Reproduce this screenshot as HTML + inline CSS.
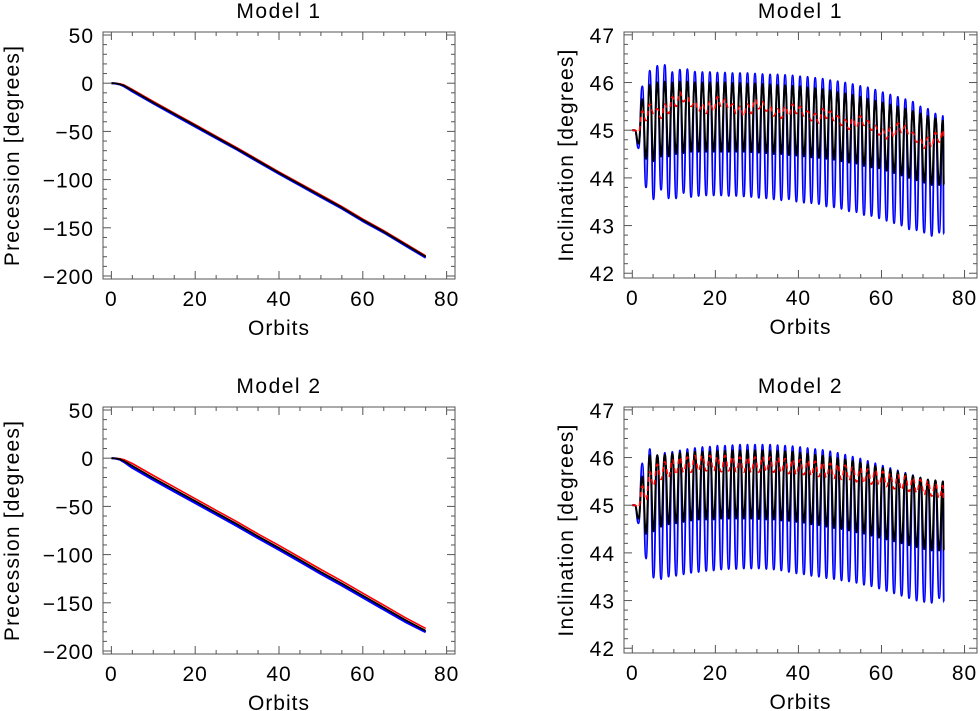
<!DOCTYPE html>
<html><head><meta charset="utf-8">
<style>
html,body{margin:0;padding:0;background:#fff;}
svg{display:block;font-family:"Liberation Sans",sans-serif;}
</style></head>
<body>
<svg id="chart" width="980" height="711" viewBox="0 0 980 711" xmlns="http://www.w3.org/2000/svg"></svg>
<script>
// ---------- Precession data (orbits vs degrees) ----------
const precX = [0,1,2,3,5,10,15,20,25,30,35,40,45,50,55,60,65,70,75];
const prec1Black = [0,-0.2,-1,-2.5,-7.5,-20,-32,-44,-56,-68,-80.5,-93,-105,-117,-129,-142,-154,-167,-180];
const prec1Red   = [0,-0.1,-0.6,-1.8,-6.5,-19,-31,-43,-55,-67,-79.5,-92,-104,-116,-128,-141,-153,-166,-179];
const prec1Blue  = [0,-0.3,-1.3,-3.2,-8.5,-21,-33,-45,-57,-69,-81.5,-94,-106,-118,-130,-143,-155,-168,-181];
const prec2Black = [0,-0.2,-1,-3,-8,-20.5,-32.5,-44.5,-56.5,-68.5,-81,-93,-105.5,-118,-130,-142.5,-155,-167.5,-179];
const prec2Red   = [0,-0.1,-0.5,-1.5,-5.5,-18,-30,-42,-54,-66,-78.5,-90.5,-103,-115.5,-127.5,-140,-152.5,-165,-176.5];
const prec2Blue  = [0,-0.3,-1.5,-4,-10,-22.5,-34.5,-46.5,-58.5,-70.5,-83,-95,-107.5,-120,-132,-144.5,-157,-169.5,-180.5];

// ---------- Inclination data: per-cycle extrema ----------
const cyclePeriod = 1.81;  // orbits per oscillation
const firstPeakX = 2.4;
const inc1BlueMax = [45.92,46.25,46.35,46.37,46.22,46.27,46.28,46.23,46.22,46.22,46.21,46.21,46.2,46.2,46.2,46.19,46.18,46.17,46.17,46.16,46.15,46.13,46.12,46.1,46.08,46.05,46.03,46.0,45.97,45.93,45.9,45.85,45.8,45.75,45.7,45.65,45.6,45.5,45.45,45.35,45.3];
const inc1BlueMin = [43.8,43.55,43.75,43.57,43.57,43.68,43.6,43.62,43.63,43.63,43.63,43.62,43.62,43.61,43.6,43.58,43.57,43.55,43.53,43.55,43.5,43.48,43.47,43.45,43.4,43.38,43.35,43.3,43.28,43.22,43.2,43.15,43.1,43.05,43.0,42.92,42.9,42.85,42.78,42.85,42.82];
const inc1BlackMax = [45.65,45.95,46.0,46.02,46.0,46.02,46.02,46.0,46.0,46.0,46.0,46.0,45.99,45.99,45.98,45.98,45.97,45.96,45.95,45.94,45.93,45.92,45.9,45.88,45.86,45.84,45.8,45.77,45.74,45.7,45.66,45.62,45.58,45.54,45.5,45.45,45.4,45.35,45.3,45.25,45.2];
const inc1BlackMin = [44.4,44.35,44.45,44.45,44.5,44.52,44.55,44.55,44.55,44.55,44.55,44.55,44.55,44.55,44.54,44.53,44.52,44.5,44.5,44.48,44.47,44.45,44.43,44.42,44.4,44.38,44.35,44.32,44.3,44.25,44.22,44.2,44.15,44.1,44.05,44.0,43.95,43.9,43.85,43.85,43.85];
const inc1RedMid = [45.3,45.45,45.35,45.45,45.6,45.7,45.6,45.5,45.45,45.5,45.6,45.55,45.45,45.4,45.45,45.55,45.5,45.4,45.35,45.4,45.45,45.4,45.3,45.25,45.35,45.3,45.2,45.12,45.15,45.2,45.1,45.0,44.92,44.95,45.05,45.0,44.85,44.72,44.75,44.85,44.9];
const inc1RedAmp = [0.1,0.1,0.1,0.1,0.1,0.1,0.1,0.1,0.1,0.1,0.1,0.1,0.1,0.1,0.1,0.1,0.1,0.1,0.1,0.1,0.1,0.1,0.1,0.1,0.1,0.1,0.1,0.1,0.1,0.1,0.1,0.1,0.1,0.1,0.1,0.1,0.1,0.1,0.1,0.1,0.1];

const inc2BlueMax = [45.88,46.18,46.05,46.1,46.12,46.15,46.18,46.2,46.22,46.23,46.25,46.25,46.26,46.27,46.27,46.27,46.27,46.27,46.26,46.25,46.24,46.22,46.2,46.18,46.16,46.13,46.1,46.06,46.02,45.98,45.93,45.88,45.83,45.78,45.73,45.68,45.63,45.58,45.53,45.52,45.5];
const inc2BlueMin = [43.88,43.48,43.45,43.5,43.52,43.55,43.58,43.6,43.62,43.63,43.65,43.66,43.66,43.67,43.67,43.67,43.66,43.65,43.63,43.6,43.57,43.55,43.52,43.5,43.47,43.45,43.42,43.4,43.37,43.33,43.3,43.25,43.2,43.15,43.1,43.05,43.0,42.97,42.95,43.05,42.97];
const inc2BlackMax = [45.6,46.05,46.05,46.06,46.08,46.1,46.1,46.12,46.12,46.13,46.14,46.14,46.15,46.15,46.15,46.15,46.15,46.14,46.14,46.13,46.12,46.1,46.08,46.06,46.04,46.02,45.99,45.96,45.93,45.9,45.86,45.82,45.78,45.74,45.7,45.66,45.62,45.58,45.54,45.52,45.5];
const inc2BlackMin = [44.4,44.45,44.55,44.6,44.62,44.65,44.68,44.7,44.7,44.7,44.72,44.72,44.72,44.72,44.72,44.71,44.7,44.7,44.68,44.67,44.65,44.63,44.6,44.58,44.55,44.52,44.5,44.47,44.43,44.4,44.36,44.32,44.28,44.24,44.2,44.16,44.12,44.08,44.05,44.05,44.05];
const inc2RedMid = [45.25,45.55,45.7,45.75,45.8,45.85,45.85,45.88,45.88,45.88,45.86,45.88,45.86,45.85,45.85,45.85,45.86,45.85,45.84,45.82,45.8,45.8,45.78,45.76,45.74,45.72,45.7,45.68,45.65,45.62,45.6,45.58,45.55,45.5,45.48,45.45,45.42,45.38,45.35,45.3,45.25];
const inc2RedAmp = [0.15,0.15,0.16,0.16,0.16,0.16,0.16,0.16,0.16,0.16,0.16,0.16,0.16,0.16,0.16,0.16,0.16,0.16,0.16,0.16,0.16,0.16,0.16,0.16,0.16,0.16,0.16,0.16,0.16,0.16,0.16,0.16,0.16,0.16,0.16,0.16,0.16,0.16,0.16,0.16,0.16];

// ---------- Tick labels ----------
const xTicks = [0,20,40,60,80];
const precTicks = [50,0,-50,-100,-150,-200];
const incTicks = [47,46,45,44,43,42];

const NS='http://www.w3.org/2000/svg';
const svg=document.getElementById('chart');
function mk(tag,attrs,parent){const e=document.createElementNS(NS,tag);for(const k in attrs)e.setAttribute(k,attrs[k]);(parent||svg).appendChild(e);return e;}

function makePanel(cfg){
  const g=mk('g',{});
  
  
  const sx=v=>cfg.L+(v-cfg.x0)/(cfg.x1-cfg.x0)*(cfg.R-cfg.L);
  const sy=v=>cfg.B-(v-cfg.y0)/(cfg.y1-cfg.y0)*(cfg.B-cfg.T);
  cfg.sx=sx;cfg.sy=sy;cfg.g=g;
  const ax=mk('g',{stroke:'#555','stroke-width':1},g);
  
  
  mk('rect',{x:cfg.L,y:cfg.T,width:cfg.R-cfg.L,height:cfg.B-cfg.T,fill:'none'},ax);
  for(let v=0;v<=80+1e-9;v+=5){
    const x=sx(v),len=(v%20===0)?8:4;
    mk('line',{x1:x,y1:cfg.B,x2:x,y2:cfg.B-len},ax);
    mk('line',{x1:x,y1:cfg.T,x2:x,y2:cfg.T+len},ax);
  }
  for(let i=0;;i++){
    const v=cfg.yMinor0+i*cfg.yMinor; if(v>cfg.y1+1e-9)break; if(v<cfg.y0)continue;
    const major=Math.abs(Math.round(v/cfg.yMajor)*cfg.yMajor-v)<1e-6;
    const y=sy(v),len=major?8:4;
    mk('line',{x1:cfg.L,y1:y,x2:cfg.L+len,y2:y},ax);
    mk('line',{x1:cfg.R,y1:y,x2:cfg.R-len,y2:y},ax);
  }
  xTicks.forEach(v=>{const t=mk('text',{x:sx(v),y:cfg.B+27,'text-anchor':'middle','font-size':21,'letter-spacing':1,fill:'#000'},g);t.textContent=v;
    });
  cfg.yTicks.forEach(v=>{const t=mk('text',{x:cfg.L-9,y:sy(v)+8,'text-anchor':'end','font-size':21,'letter-spacing':1,fill:'#000'},g);t.textContent=(v<0?'\u2212'+(-v):v);
    });
  const tt=mk('text',{x:(cfg.L+cfg.R)/2,y:cfg.T-14,'text-anchor':'middle','font-size':21,'letter-spacing':1.5,fill:'#000','xml:space':'preserve'},g);tt.textContent=cfg.title;
  
  const xt=mk('text',{x:(cfg.L+cfg.R)/2,y:cfg.B+56,'text-anchor':'middle','font-size':21,'letter-spacing':1,fill:'#000'},g);xt.textContent='Orbits';
  
  const yx=cfg.ylabX, yy=(cfg.T+cfg.B)/2;
  const yt=mk('text',{x:yx,y:yy,'text-anchor':'middle','font-size':21,'letter-spacing':1.2,fill:'#000','xml:space':'preserve',transform:`rotate(-90 ${yx} ${yy})`},g);yt.textContent=cfg.ylab;
  
  return cfg;
}
function polyLine(cfg,xs,ys,color,name,w){
  const d=xs.map((x,i)=>(i?'L':'M')+cfg.sx(x).toFixed(1)+','+cfg.sy(ys[i]).toFixed(1)).join('');
  const p=mk('path',{d:d,fill:'none',stroke:color,'stroke-width':w,'stroke-linejoin':'round'},cfg.g);
  
}
function drawExtrema(cfg,pts,color,name,width,dash){
  let d='M'+cfg.sx(pts[0][0]).toFixed(1)+','+cfg.sy(pts[0][1]).toFixed(1);
  for(let i=1;i<pts.length;i++){
    const a=pts[i-1],b=pts[i];const mx=(cfg.sx(a[0])+cfg.sx(b[0]))/2;
    d+=`C${mx.toFixed(1)},${cfg.sy(a[1]).toFixed(1)} ${mx.toFixed(1)},${cfg.sy(b[1]).toFixed(1)} ${cfg.sx(b[0]).toFixed(1)},${cfg.sy(b[1]).toFixed(1)}`;
  }
  const p=mk('path',{d:d,fill:'none',stroke:color,'stroke-width':width,'stroke-linejoin':'round'},cfg.g);
  if(dash)p.setAttribute('stroke-dasharray',dash);
  
}
function extremaPts(maxArr,minArr,firstMin){
  const pts=[[0,45],[0.6,45],[firstPeakX-cyclePeriod/2,firstMin]];
  for(let i=0;i<maxArr.length;i++){
    const xp=firstPeakX+i*cyclePeriod;
    pts.push([xp,maxArr[i]]);
    pts.push([Math.min(75,xp+cyclePeriod/2),minArr[i]]);
  }
  return pts;
}
function redPts(mid,amp){
  const pts=[[0,45],[0.6,45],[firstPeakX-cyclePeriod/2,44.95]];
  for(let i=0;i<mid.length;i++){
    const xp=firstPeakX+i*cyclePeriod;
    pts.push([xp,mid[i]+amp[i]]);
    pts.push([Math.min(75,xp+cyclePeriod/2),mid[i]-amp[i]]);
  }
  return pts;
}

const base={x0:-2,x1:82};
const panels=[
 {name:'precession-model-1',title:'Model  1',L:103,R:455,T:32,B:279,y0:-203.1,y1:53.1,yMajor:50,yMinor:10,yMinor0:-200,yTicks:precTicks,ylab:'Precession  [degrees]',ylabX:19,kind:'p',data:[prec1Blue,prec1Red,prec1Black]},
 {name:'inclination-model-1',title:'Model  1',L:624,R:977,T:32,B:278,y0:41.9,y1:47.06,yMajor:1,yMinor:0.2,yMinor0:42,yTicks:incTicks,ylab:'Inclination  [degrees]',ylabX:573,kind:'i',data:[inc1BlueMax,inc1BlueMin,inc1BlackMax,inc1BlackMin,inc1RedMid,inc1RedAmp]},
 {name:'precession-model-2',title:'Model  2',L:103,R:455,T:407,B:654,y0:-203.1,y1:53.1,yMajor:50,yMinor:10,yMinor0:-200,yTicks:precTicks,ylab:'Precession  [degrees]',ylabX:19,kind:'p',data:[prec2Blue,prec2Red,prec2Black]},
 {name:'inclination-model-2',title:'Model  2',L:624,R:977,T:407,B:653,y0:41.9,y1:47.06,yMajor:1,yMinor:0.2,yMinor0:42,yTicks:incTicks,ylab:'Inclination  [degrees]',ylabX:573,kind:'i',data:[inc2BlueMax,inc2BlueMin,inc2BlackMax,inc2BlackMin,inc2RedMid,inc2RedAmp]}
];
panels.forEach(p=>{
  const c=makePanel(Object.assign({},base,p, p.kind==='i'?{x1:83}:{}));
  if(p.kind==='p'){
    polyLine(c,precX,p.data[0],'#0000ff','blue-series',2.2);
    polyLine(c,precX,p.data[1],'#ff0000','red-series',1.6);
    polyLine(c,precX,p.data[2],'#000000','black-series',1.8);
  }else{
    drawExtrema(c,extremaPts(p.data[0],p.data[1],44.62),'#0000ff','blue-series',1.8);
    drawExtrema(c,extremaPts(p.data[2],p.data[3],44.72),'#000000','black-series',2);
    drawExtrema(c,redPts(p.data[4],p.data[5]),'#ff0000','red-series',1.6,'5 4');
  }
});
</script>
</body></html>
